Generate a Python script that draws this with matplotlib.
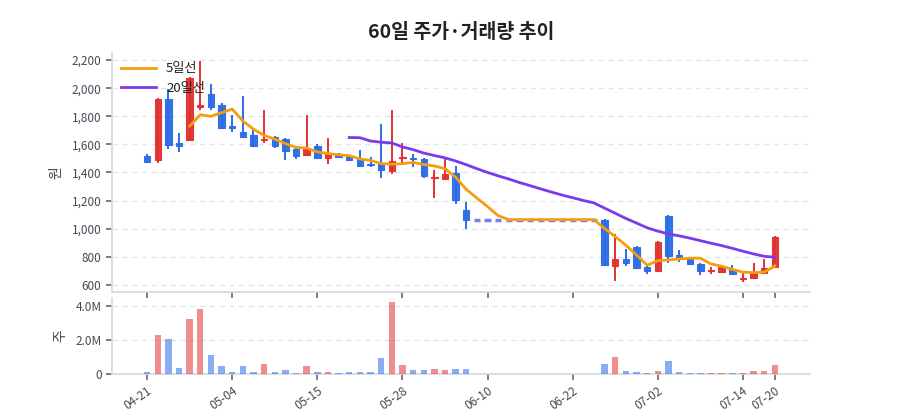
import matplotlib
matplotlib.use("Agg")
import matplotlib.pyplot as plt
from matplotlib.patches import Rectangle
from matplotlib.ticker import FuncFormatter
import numpy as np
import pandas as pd

plt.rcParams['font.family'] = ['Noto Sans CJK KR', 'DejaVu Sans']

# ---- data ----
opens = [1520, 1490, 1920, 1610, 1630, 1868, 1960, 1880, 1730, 1690,
         1670, 1630, 1650, 1635, 1565, 1525, 1585, 1500, 1530, 1518,
         1495, 1460, 1470, 1410, 1500, 1500, 1495, 1360, 1352, 1395,
         1130, 1065, 1065, 1065, 1065, 1065, 1065, 1065, 1065, 1065,
         1065, 1065, 1065, 1062, 737, 783, 870, 725, 702, 1093,
         812, 785, 747, 698, 695, 714, 643, 648, 683, 730]
highs = [1524, 1920, 1990, 1675, 2070, 2185, 2020, 1885, 1802, 1940,
         1700, 1835, 1650, 1640, 1567, 1800, 1595, 1635, 1532, 1520,
         1555, 1500, 1740, 1835, 1605, 1525, 1496, 1410, 1498, 1440,
         1180, 1065, 1065, 1065, 1065, 1065, 1065, 1065, 1065, 1065,
         1065, 1065, 1065, 1062, 955, 849, 872, 726, 908, 1093,
         842, 785, 747, 719, 735, 735, 680, 747, 778, 943]
lows = [1472, 1477, 1575, 1550, 1630, 1850, 1850, 1718, 1695, 1650,
        1585, 1615, 1580, 1495, 1505, 1522, 1505, 1470, 1508, 1489,
        1446, 1448, 1365, 1395, 1460, 1448, 1370, 1228, 1352, 1180,
        1003, 1065, 1065, 1065, 1065, 1065, 1065, 1065, 1065, 1065,
        1065, 1065, 1065, 742, 636, 742, 719, 688, 702, 766,
        771, 747, 676, 683, 695, 676, 628, 648, 683, 730]
closes = [1475, 1920, 1595, 1590, 2070, 1880, 1865, 1720, 1718, 1650,
          1590, 1640, 1590, 1555, 1518, 1565, 1505, 1530, 1510, 1490,
          1448, 1450, 1420, 1485, 1510, 1495, 1375, 1368, 1388, 1205,
          1063, 1065, 1065, 1065, 1065, 1065, 1065, 1065, 1065, 1065,
          1065, 1065, 1065, 742, 783, 755, 720, 700, 908, 806,
          790, 748, 700, 703, 726, 676, 650, 683, 723, 943]
volumes_m = [0.14, 2.28, 2.08, 0.36, 3.23, 3.80, 1.09, 0.50, 0.14, 0.50,
             0.14, 0.60, 0.12, 0.26, 0.08, 0.50, 0.14, 0.12, 0.08, 0.12,
             0.12, 0.12, 0.97, 4.26, 0.53, 0.24, 0.24, 0.30, 0.26, 0.30,
             0.32, 0, 0, 0, 0, 0, 0, 0, 0, 0,
             0, 0, 0, 0.60, 1.00, 0.18, 0.10, 0.08, 0.20, 0.77,
             0.10, 0.08, 0.08, 0.04, 0.04, 0.08, 0.08, 0.20, 0.18, 0.53]
tick_idx = [0, 8, 16, 24, 32, 40, 48, 56, 59]
tick_labels = ['04-21', '05-04', '05-15', '05-28', '06-10', '06-22', '07-02', '07-14', '07-20']

n = len(closes)
x = np.arange(n)
vol = np.array(volumes_m) * 1e6
ma5 = pd.Series(closes).rolling(5).mean()
ma20 = pd.Series(closes).rolling(20).mean()

RED = '#e03131'
BLUE = '#2b6be6'
FLAT = '#6366f1'
ORANGE = '#f59e0b'
PURPLE = '#7c3aed'
GRID = '#e3e6eb'
SPINE = '#d3d7df'
TXT = '#444a55'

fig = plt.figure(figsize=(9, 4.2), dpi=100)
ax = fig.add_axes([0.1244, 0.3048, 0.7756, 0.569])
axv = fig.add_axes([0.1244, 0.1095, 0.7756, 0.182])

w = 0.6
for i in range(n):
    o, h, l, c = opens[i], highs[i], lows[i], closes[i]
    if c > o:
        col = RED
    elif c < o:
        col = BLUE
    else:
        col = FLAT
    if o == c and h == l:
        ax.plot([i - w / 2, i + w / 2], [o, o], color=FLAT, lw=2.5, alpha=0.85,
                solid_capstyle='butt', zorder=3)
        continue
    ax.plot([i, i], [l, h], color=col, lw=1.4, zorder=2)
    bottom = min(o, c)
    height = max(abs(c - o), 8)
    ax.add_patch(Rectangle((i - w / 2, bottom), w, height, facecolor=col,
                           edgecolor=col, lw=0.8, alpha=0.95, zorder=3))

ax.plot(x, ma5, color=ORANGE, lw=2, label='5일선', zorder=4)
ax.plot(x, ma20, color=PURPLE, lw=2, label='20일선', zorder=4)

ax.set_xlim(-3.3, 62.3)
ax.set_ylim(550, 2250)
ax.set_yticks(range(600, 2201, 200))
ax.yaxis.set_major_formatter(FuncFormatter(lambda v, p: f'{int(v):,}'))
ax.set_xticks(tick_idx)
ax.set_xticklabels([])
ax.grid(axis='y', color=GRID, ls=(0, (4, 3)), lw=1)
ax.set_axisbelow(True)
ax.set_ylabel('원', color=TXT, fontsize=10, labelpad=6)
leg = ax.legend(loc='upper left', frameon=False, fontsize=9.5, handlelength=2.6,
                borderaxespad=0.3, labelspacing=0.5)
for t in leg.get_texts():
    t.set_color('#222222')

vcols = []
for i in range(n):
    if closes[i] > opens[i]:
        vcols.append(RED)
    elif closes[i] < opens[i]:
        vcols.append(BLUE)
    else:
        vcols.append(FLAT)
axv.bar(x, vol, width=0.6, color=vcols, alpha=0.55, zorder=3)
axv.set_xlim(-3.3, 62.3)
axv.set_ylim(0, 4.5e6)
axv.set_yticks([0, 2e6, 4e6])
axv.yaxis.set_major_formatter(FuncFormatter(lambda v, p: '0' if v == 0 else f'{v/1e6:.1f}M'))
axv.set_xticks(tick_idx)
axv.set_xticklabels(tick_labels, rotation=35, ha='right', rotation_mode='anchor')
axv.grid(axis='y', color=GRID, ls=(0, (4, 3)), lw=1)
axv.set_axisbelow(True)
axv.set_ylabel('주', color=TXT, fontsize=10, labelpad=6)

for a in (ax, axv):
    for s in ('top', 'right'):
        a.spines[s].set_visible(False)
    for s in ('left', 'bottom'):
        a.spines[s].set_color(SPINE)
        a.spines[s].set_linewidth(1.2)
    a.tick_params(axis='both', colors='#555b66', labelcolor=TXT, labelsize=8.5,
                  length=4, width=1.1)

fig.text(0.5122, 0.922, '60일 주가·거래량 추이', ha='center', va='center',
         fontsize=14, fontweight='bold', color='#222222')

fig.savefig('out.png', dpi=100)
